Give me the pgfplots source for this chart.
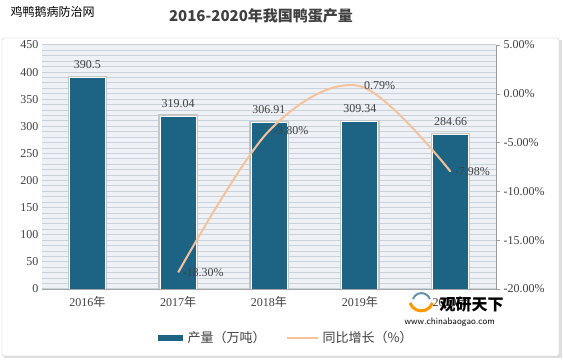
\documentclass[border=0pt]{standalone}
\usepackage{pgfplots}
\pgfplotsset{compat=1.18}
\usepackage{fontspec}
\setmainfont{Liberation Serif}
\newfontfamily\cjk{Noto Sans CJK SC}
\definecolor{barc}{HTML}{1D6384}
\definecolor{linec}{HTML}{F6C29C}
\definecolor{bgc}{HTML}{EEF2F6}
\definecolor{gridc}{HTML}{C9D1DB}
\definecolor{txt}{HTML}{404040}
\begin{document}
\begin{tikzpicture}[x=1pt,y=1pt]
\useasboundingbox (0,0) rectangle (563,361);
\fill[gray!25] (4,3) rectangle (562,321);
\draw[gray!45,fill=white,rounded corners=2pt] (2,5) rectangle (559,323);
\node[font=\cjk\fontsize{12}{12}\selectfont,anchor=west] at (7,349) {鸡鸭鹅病防治网};
\node[font=\cjk\bfseries\fontsize{15}{15}\selectfont,text=txt] at (261,345) {2016-2020年我国鸭蛋产量};
\begin{axis}[
  at={(42pt,72pt)}, anchor=south west,
  scale only axis, width=454pt, height=244pt,
  xmin=-0.5, xmax=4.5, ymin=0, ymax=450,
  xtick={0,1,2,3,4},
  xticklabels={2016{\cjk 年},2017{\cjk 年},2018{\cjk 年},2019{\cjk 年},2020{\cjk 年}},
  ytick={0,50,...,450},
  minor ytick={0,10,...,450},
  ymajorgrids, yminorgrids,
  major grid style={gridc, line width=1pt},
  minor grid style={gridc, line width=1pt},
  axis background/.style={fill=bgc},
  axis line style={draw=none},
  axis x line*=bottom,
  x axis line style={draw=gray!70},
  tick style={draw=none},
  axis y line*=left,
  tick label style={font=\fontsize{12}{12}\selectfont, text=txt},
  /pgf/number format/assume math mode=true,
  yticklabel style={/pgf/number format/fixed},
  ybar, bar width=36pt,
  nodes near coords,
  nodes near coords style={font=\fontsize{12}{12}\selectfont, text=txt, /pgf/number format/fixed, /pgf/number format/precision=2, yshift=5pt},
]
\addplot[fill=barc, draw=white, line width=0.8pt, preaction={draw=gray!45, line width=3.5pt}] coordinates {(0,390.5) (1,319.04) (2,306.91) (3,309.34) (4,284.66)};
\end{axis}
\begin{axis}[
  at={(42pt,72pt)}, anchor=south west,
  scale only axis, width=454pt, height=244pt,
  xmin=-0.5, xmax=4.5, ymin=-20, ymax=5,
  axis x line=none,
  axis y line*=right,
  y axis line style={draw=gray!80},
  ytick={-20,-15,...,5},
  ytick style={draw=gray!80},
  tick align=outside, major tick length=4pt,
  yticklabel={\pgfmathprintnumber[fixed,fixed zerofill,precision=2]{\tick}\%},
  /pgf/number format/assume math mode=true,
  tick label style={font=\fontsize{12}{12}\selectfont, text=txt},
]
\addplot[linec, line width=2pt, smooth, tension=0.55,
  nodes near coords={\pgfmathprintnumber[fixed,fixed zerofill,precision=2]{\pgfplotspointmeta}\%},
  point meta=explicit,
  nodes near coords style={anchor=west, font=\fontsize{12}{12}\selectfont, text=txt}]
 coordinates {(1,-18.30)[-18.30] (2,-3.80)[-3.80] (3,0.79)[0.79] (4,-7.98)[-7.98]};
\end{axis}
% legend
\fill[barc] (158,20) rectangle (183,26);
\node[font=\cjk\fontsize{13}{13}\selectfont,text=txt,anchor=west] at (184,23) {产量（万吨）};
\draw[linec, line width=2pt] (287,23) -- (318,23);
\node[font=\cjk\fontsize{13}{13}\selectfont,text=txt,anchor=west] at (319,23) {同比增长（\%）};
% watermark
\node[font=\cjk\bfseries\fontsize{16}{16}\selectfont,anchor=west] at (436,56) {观研天下};
\node[font=\sffamily\fontsize{9.5}{9.5}\selectfont,anchor=west] at (401,39) {www.chinabaogao.com};
\draw[orange!80!yellow, line width=3pt] (410,58) arc (200:340:12);
\draw[barc!70, line width=2pt] (413,62) arc (160:20:9);
\end{tikzpicture}
\end{document}
